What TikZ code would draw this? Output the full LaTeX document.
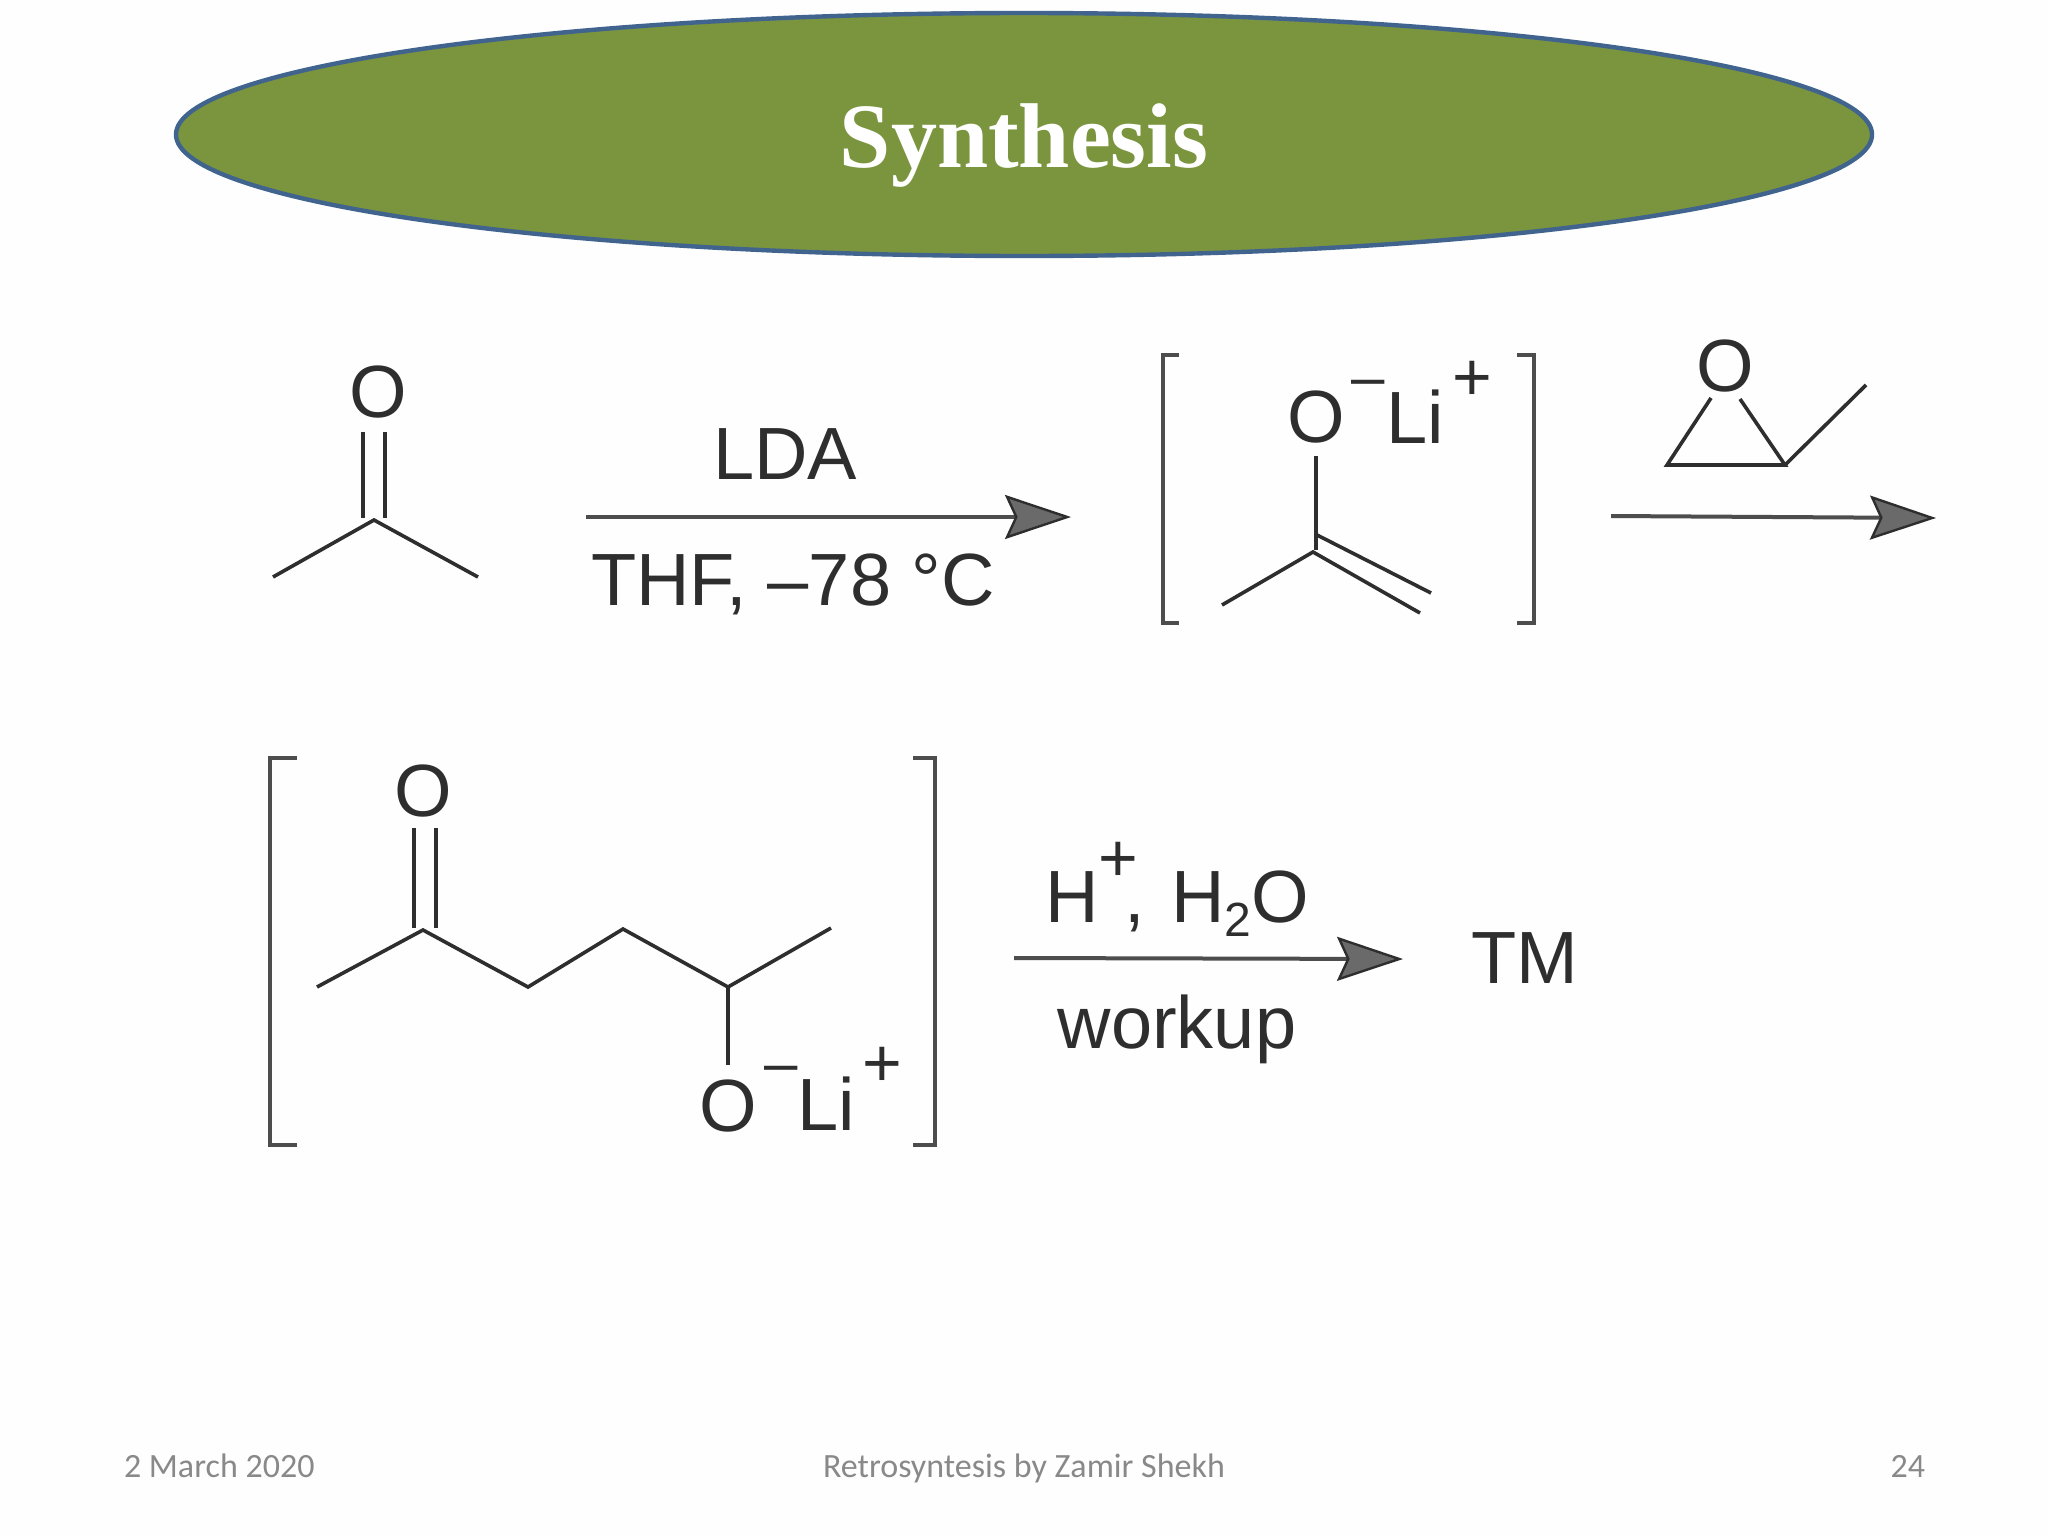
\documentclass[tikz,border=0pt]{standalone}
\usepackage{fontspec}
\usetikzlibrary{arrows.meta,shapes.geometric}
\setmainfont{Liberation Sans}
\newfontfamily\titlefont{Liberation Serif Bold}
\newfontfamily\footfont{Carlito}
\definecolor{inkgray}{HTML}{2E2E2E}
\definecolor{headgray}{HTML}{6A6A6A}
\definecolor{titlegreen}{HTML}{7A953E}
\definecolor{titleblue}{HTML}{41648F}
\definecolor{footgray}{HTML}{898989}
\definecolor{pagewhite}{HTML}{FEFEFE}
\newcommand{\chemsize}[1]{\fontsize{#1}{#1}\selectfont}
\tikzset{
  x=0.5pt,y=-0.5pt,
  bond/.style={draw=inkgray,line width=1.8pt,line cap=butt},
  bracket/.style={draw=inkgray!85,line width=2pt,line cap=butt,line join=miter},
  rxn/.style={draw=inkgray!85,line width=2pt,-{Stealth[length=33pt,width=22pt,inset=5pt,color=inkgray,fill=headgray,line width=1.2pt]}},
  chem/.style={inner sep=0pt,outer sep=0pt,anchor=base,text=inkgray,font=\chemsize{37}},
  chemw/.style={chem,anchor=base west},
  charge/.style={chem,font=\chemsize{34}},
  minussign/.style={chem,font=\chemsize{30}},
  foot/.style={inner sep=0pt,outer sep=0pt,text=footgray,font=\footfont\chemsize{17}},
  titleoval/.style={draw=titleblue,line width=2.2pt,fill=titlegreen,ellipse,inner sep=0pt,minimum width=848pt,minimum height=121.5pt}
}
\begin{document}
\begin{tikzpicture}
\useasboundingbox (0,0) rectangle (2048,1536);
\fill[pagewhite] (0,0) rectangle (2048,1536);

% title
\node[titleoval] (oval) at (1024,134.5) {};
\node[inner sep=0pt,anchor=base,text=white,font=\titlefont\chemsize{46}] (title) at (1024,167) {Synthesis};

% acetone
\node[chem] (o1) at (378,417) {O};
\coordinate (c1) at (374,520);
\coordinate (me1a) at (273,577);
\coordinate (me1b) at (478,577);
\coordinate (d1at) at (363,432); \coordinate (d1ab) at (363,518);
\coordinate (d1bt) at (385,432); \coordinate (d1bb) at (385,518);
\draw[bond] (me1a) -- (c1) -- (me1b);
\draw[bond] (d1at) -- (d1ab);
\draw[bond] (d1bt) -- (d1bb);

% arrow 1
\coordinate (a1s) at (586,517); \coordinate (a1e) at (1071,517);
\draw[rxn] (a1s) -- (a1e);
\node[chem] (lda) at (785,479) {LDA};
\node[chem] (thf) at (793,605) {THF, –78 °C};

% enolate bracket
\coordinate (bl1a) at (1179,355); \coordinate (bl1b) at (1163,355);
\coordinate (bl1c) at (1163,623); \coordinate (bl1d) at (1179,623);
\coordinate (br1a) at (1517,355); \coordinate (br1b) at (1534,355);
\coordinate (br1c) at (1534,623); \coordinate (br1d) at (1517,623);
\draw[bracket] (bl1a) -- (bl1b) -- (bl1c) -- (bl1d);
\draw[bracket] (br1a) -- (br1b) -- (br1c) -- (br1d);
\node[chem] (o2) at (1316,442) {O};
\node[minussign] (m2) at (1368,397) {–};
\node[chemw] (li2) at (1386,443) {Li};
\node[charge] (p2) at (1472,400) {+};
\coordinate (o2b) at (1316,456);
\coordinate (c2) at (1313,552);
\coordinate (me2) at (1222,605);
\coordinate (d2a) at (1420,613);
\coordinate (d2bs) at (1317,535);
\coordinate (d2be) at (1431,593);
\coordinate (o2e) at (1316,550);
\draw[bond] (o2b) -- (o2e);
\draw[bond] (me2) -- (c2) -- (d2a);
\draw[bond] (d2bs) -- (d2be);

% epoxide
\node[chem] (o3) at (1725,391) {O};
\coordinate (ep1) at (1711,398);
\coordinate (ep2) at (1740,399);
\coordinate (ep3) at (1667,465);
\coordinate (ep4) at (1785,465);
\coordinate (ep5) at (1866,385);
\draw[bond] (ep1) -- (ep3) -- (ep4) -- (ep2);
\draw[bond] (ep4) -- (ep5);

% arrow 2
\coordinate (a2s) at (1611,516); \coordinate (a2e) at (1936,518);
\draw[rxn] (a2s) -- (a2e);

% second bracket
\coordinate (bl2a) at (297,758); \coordinate (bl2b) at (270,758);
\coordinate (bl2c) at (270,1145); \coordinate (bl2d) at (297,1145);
\coordinate (br2a) at (913,758); \coordinate (br2b) at (935,758);
\coordinate (br2c) at (935,1145); \coordinate (br2d) at (913,1145);
\draw[bracket] (bl2a) -- (bl2b) -- (bl2c) -- (bl2d);
\draw[bracket] (br2a) -- (br2b) -- (br2c) -- (br2d);
\node[chem] (o4) at (423,816) {O};
\coordinate (c4) at (423,930);
\coordinate (n1) at (317,987);
\coordinate (n2) at (528,987);
\coordinate (n3) at (623,929);
\coordinate (n4) at (728,987);
\coordinate (n5) at (831,928);
\coordinate (n6) at (728,1065);
\coordinate (d4at) at (414,828); \coordinate (d4ab) at (414,928);
\coordinate (d4bt) at (436,828); \coordinate (d4bb) at (436,928);
\draw[bond] (n1) -- (c4) -- (n2) -- (n3) -- (n4) -- (n5);
\draw[bond] (n4) -- (n6);
\draw[bond] (d4at) -- (d4ab);
\draw[bond] (d4bt) -- (d4bb);
\node[chem] (o5) at (728,1131) {O};
\node[minussign] (m5) at (781,1083) {–};
\node[chemw] (li5) at (797,1130) {Li};
\node[charge] (p5) at (882,1086) {+};

% arrow 3
\coordinate (a3s) at (1014,958); \coordinate (a3e) at (1403,959);
\draw[rxn] (a3s) -- (a3e);
\node[chem,anchor=base west] (h1) at (1045,922) {H\rlap{\raisebox{20.5pt}{\chemsize{34}+}}\kern 13pt,\kern 13pt H\raisebox{-0.2em}{\chemsize{24}2}O};
\node[chem] (wk) at (1177,1048) {workup};
\node[chem] (tm) at (1525,983) {TM};

% footer
\node[foot,anchor=base west] (date) at (124,1477) {2 March 2020};
\node[foot,anchor=base] (author) at (1024,1477) {Retrosyntesis by Zamir Shekh};
\node[foot,anchor=base east] (page) at (1925,1477) {24};
\end{tikzpicture}
\end{document}
